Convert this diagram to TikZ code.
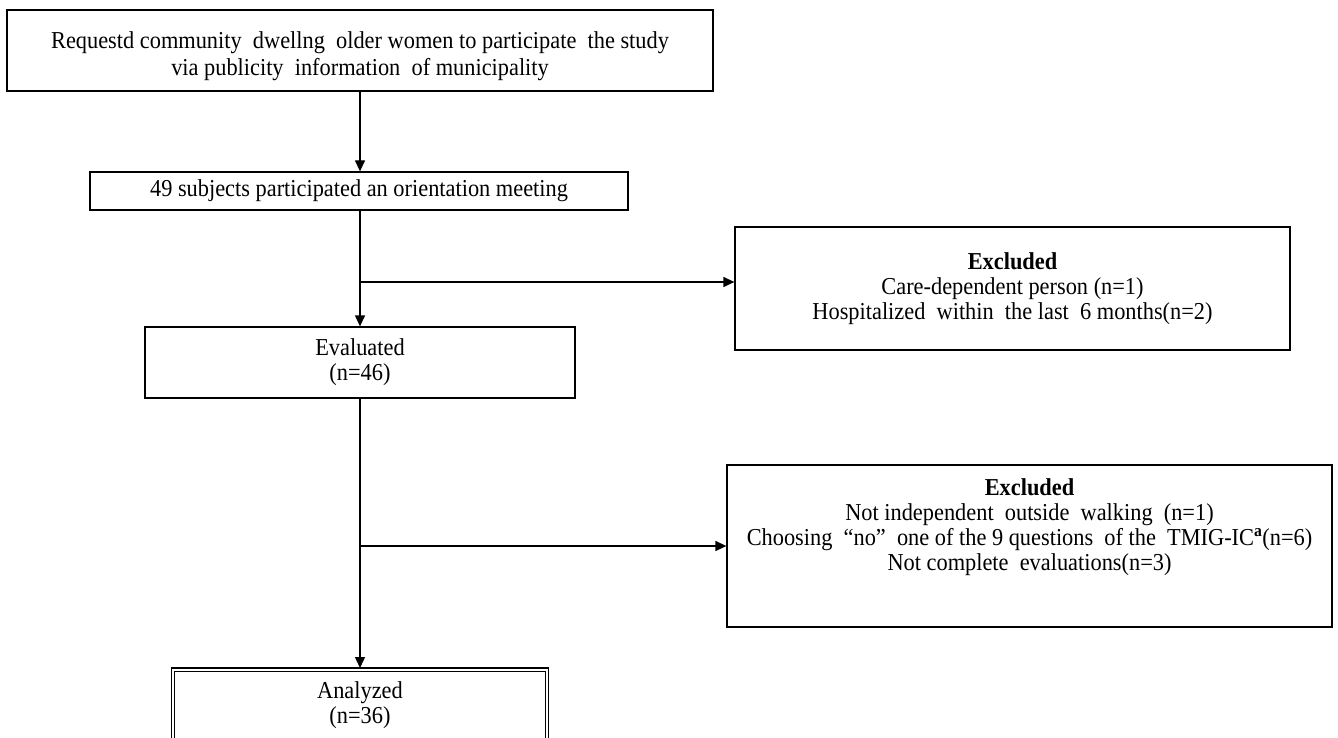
\documentclass[tikz,border=0pt]{standalone}
\usepackage{fontspec}
\setmainfont[FakeStretch=0.92]{Liberation Serif}
\usetikzlibrary{arrows.meta}
\begin{document}
\begin{tikzpicture}[x=1pt,y=-1pt,
  box/.style={draw=black, line width=1.3pt, rectangle, inner sep=0pt, align=center,
    font=\fontsize{24.3}{25}\selectfont},
  txt/.style={inner sep=0pt, align=center, font=\fontsize{24.3}{25}\selectfont},
  arr/.style={line width=1.3pt, -{Triangle[length=11pt,width=10pt]}},
  ln/.style={line width=1.3pt}]
\useasboundingbox (0,0) rectangle (1338,738);
\node[box, minimum width=706pt, minimum height=81pt] (top) at (360,50.5) {};
\node[txt, font=\fontsize{24.3}{27}\selectfont] (topt) at (360,56)
  {Requestd community\ \ dwellng\ \ older women to participate\ \ the study\\via publicity\ \ information\ \ of municipality};
\node[box, minimum width=538pt, minimum height=38pt] (orient) at (359,191)
  {49 subjects participated an orientation meeting};
\node[box, minimum width=430pt, minimum height=71pt] (eval) at (360,362.5)
  {Evaluated\\(n=46)};
\node[box, minimum width=555pt, minimum height=123pt] (ex1) at (1012.5,288.5)
  {\textbf{Excluded}\\Care-dependent person (n=1)\\Hospitalized\ \ within\ \ the last\ \ 6 months(n=2)};
\node[box, minimum width=605pt, minimum height=162pt] (ex2) at (1029.5,546) {};
\node[txt, anchor=north] (ex2t) at ([yshift=-14pt]ex2.north)
  {\textbf{Excluded}\\Not independent\ \ outside\ \ walking\ \ (n=1)\\Choosing\ \ “no”\ \ one of the 9 questions\ \ of the\ \ TMIG-IC\textsuperscript{\textbf{a}}(n=6)\\Not complete\ \ evaluations(n=3)};
\node[box, draw=none, minimum width=376pt, minimum height=90pt, anchor=north] (ana) at (360,668) {};
\draw[line width=1.1pt, double, double distance=2.2pt] ([xshift=1.6pt,yshift=-1.6pt]ana.north west) rectangle ([xshift=-1.6pt,yshift=1.6pt]ana.south east);
\node[txt] (anat) at (360,705.5) {Analyzed\\(n=36)};
\coordinate (b1) at (360,282);
\coordinate (b2) at (360,546);
\draw[arr] (top.south) -- (orient.north -| top.south);
\draw[arr] (orient.south -| top.south) -- (eval.north);
\draw[arr] (b1) -- (b1 -| ex1.west);
\draw[arr] (eval.south) -- (ana.north);
\draw[arr] (b2) -- (b2 -| ex2.west);
\end{tikzpicture}
\end{document}
